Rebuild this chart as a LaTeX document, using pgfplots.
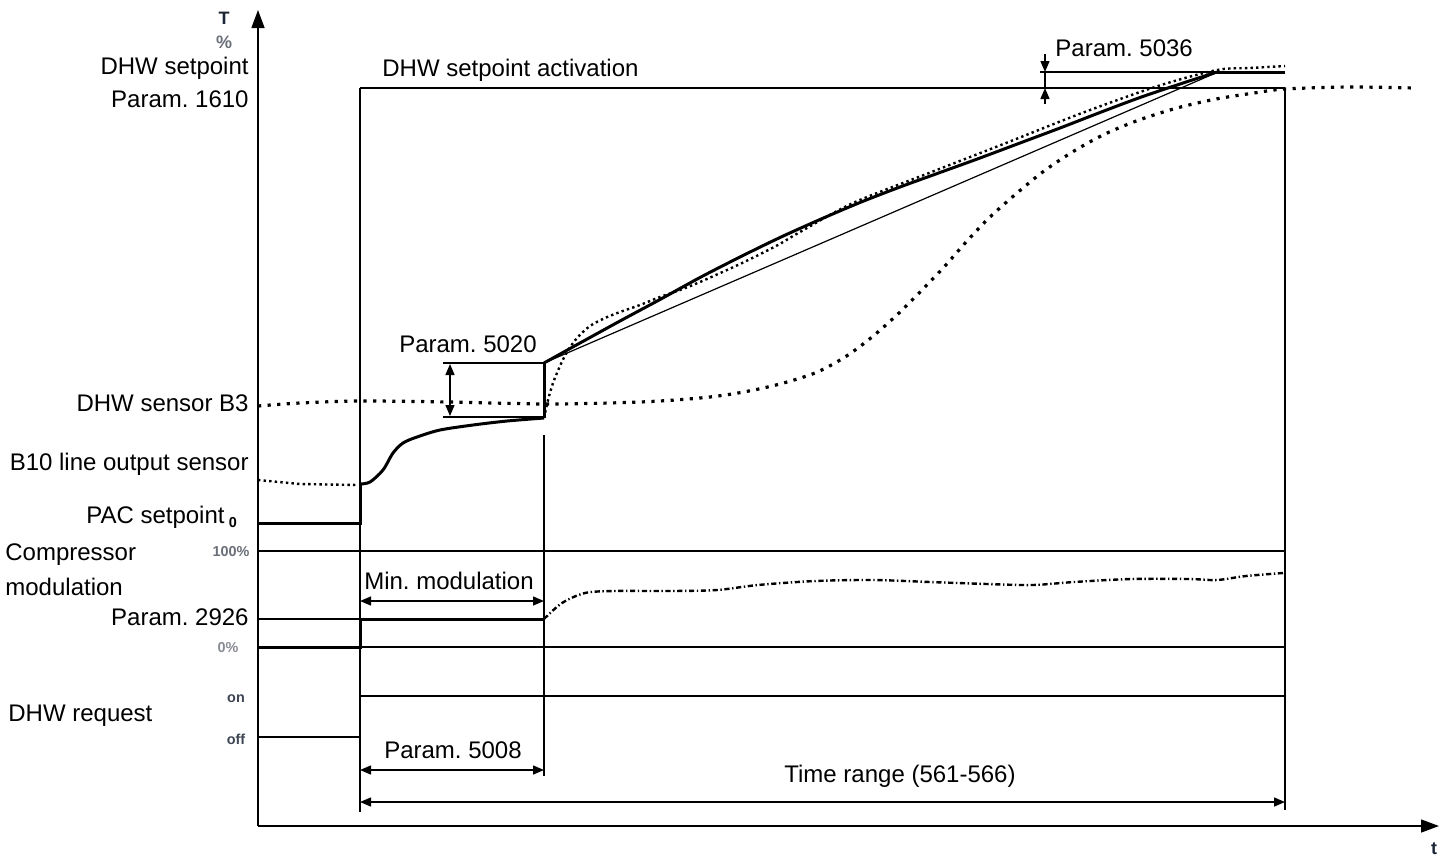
\documentclass[border=0pt]{standalone}
\usepackage{pgfplots}
\pgfplotsset{compat=1.18}
\usetikzlibrary{arrows.meta}
\usepackage{fontspec}
\setmainfont{Liberation Sans}
\frenchspacing
\definecolor{navy}{HTML}{1C2535}
\definecolor{grayl}{HTML}{6A6E78}
\tikzset{
  thinl/.style={line width=0.7pt},
  thickl/.style={line width=1.5pt},
  bigarrow/.style={-{Triangle[length=9pt,width=6.5pt]}},
  dimarrow/.style={{Triangle[length=5.5pt,width=4.5pt]}-{Triangle[length=5.5pt,width=4.5pt]}},
  endarrow/.style={-{Triangle[length=5.5pt,width=4.5pt]}},
  lab/.style={font=\fontsize{12}{14}\selectfont, inner sep=0pt},
  smalllab/.style={font=\fontsize{7.2}{8}\selectfont\bfseries, inner sep=0pt},
  axlab/.style={font=\fontsize{9}{10}\selectfont\bfseries, inner sep=0pt},
}
\begin{document}
\begin{tikzpicture}
\begin{axis}[
  width=723.5pt, height=429.5pt, scale only axis,
  xmin=0, xmax=1447, ymin=0, ymax=859, y dir=reverse,
  hide axis, clip=false,
  every axis plot/.append style={black},
]
\draw[draw=none] (axis cs:0,0) rectangle (axis cs:1447,859);

% axes
\addplot[thinl, bigarrow] coordinates {(258,826) (258,10)};
\addplot[thinl, bigarrow] coordinates {(258,826) (1439,826)};

% vertical guide lines
\addplot[thinl] coordinates {(360,88) (360,812)};
\addplot[thinl] coordinates {(544,435) (544,776)};
\addplot[thinl] coordinates {(1285,88) (1285,810)};

% horizontal guide lines
\addplot[thinl] coordinates {(360,88) (1285,88)};
\addplot[thinl] coordinates {(1040,72) (1218,72)};
\addplot[thinl] coordinates {(258,551) (1285,551)};
\addplot[thinl] coordinates {(258,619) (360,619)};
\addplot[thinl] coordinates {(360,647) (1285,647)};
\addplot[thinl] coordinates {(360,696) (1285,696)};
\addplot[thinl] coordinates {(258,737) (360,737)};
\addplot[thinl] coordinates {(443,363) (544,363)};
\addplot[thinl] coordinates {(443,417) (544,417)};

% dimension arrows
\addplot[thinl, dimarrow] coordinates {(450,364) (450,416)};
\addplot[thinl, dimarrow] coordinates {(360,601) (544,601)};
\addplot[thinl, dimarrow] coordinates {(360,770) (544,770)};
\addplot[thinl, dimarrow] coordinates {(360,802) (1285,802)};
\addplot[thinl, endarrow] coordinates {(1045,54) (1045,72)};
\addplot[thinl] coordinates {(1045,72) (1045,88)};
\addplot[thinl, endarrow] coordinates {(1045,104) (1045,88)};

% thin straight reference ramp
\addplot[line width=0.6pt] coordinates {(544,363) (1218,72)};

% DHW sensor B3 (coarse dots)
\addplot[line width=1.6pt, dash pattern=on 1.6pt off 3.2pt, smooth] coordinates {
(258,406) (300,403) (360,401) (450,402) (550,404) (640,402) (700,398) (738,393)
(776,385) (815,373) (845,357) (872,337) (899,313) (922,290) (944,267) (967,241)
(990,217) (1017,193) (1044,171) (1074,151) (1105,134) (1139,120) (1177,108)
(1216,99) (1254,93) (1285,89) (1350,87) (1415,88)};

% B10 line output sensor (fine dots)
\addplot[line width=1.2pt, dash pattern=on 1.2pt off 1.6pt] coordinates {
(258,480) (300,484) (358,485)};
\addplot[line width=1.2pt, dash pattern=on 1.2pt off 1.6pt, smooth] coordinates {
(544,418) (548,400) (553,383) (560,366) (567,352) (577,338) (590,326) (605,318)
(620,312) (640,305) (660,297) (680,290) (700,282) (740,264) (776,246) (800,232)
(853,203) (929,173) (1006,143) (1082,113) (1158,86) (1217,70) (1250,68) (1285,66)};

% PAC setpoint (thick)
\addplot[thickl] coordinates {(258,523) (360,523) (360,484)};
\addplot[thickl, smooth] coordinates {
(360,484) (370,482) (383,470) (393,453) (403,443) (417,437) (440,430)
(473,425) (507,421) (544,418)};
\addplot[thickl] coordinates {(544,418) (544,363)};
\addplot[thickl, smooth] coordinates {
(544,363) (580,343) (620,321) (660,299.5) (700,277.5) (740,257) (780,237.5)
(820,219.5) (860,202.5) (900,187) (940,172.5) (980,158) (1020,143) (1060,128)
(1100,112.5) (1140,97.5) (1180,84) (1217,72)};
\addplot[thickl] coordinates {(1217,72) (1285,72)};

% compressor modulation
\addplot[thickl] coordinates {(258,647) (360,647) (360,619) (544,619)};
\addplot[line width=1.2pt, dash pattern=on 2.6pt off 1.3pt on 0.7pt off 1.3pt, smooth] coordinates {
(544,619) (562,603) (585,593) (614,591) (671,591) (717,590) (758,585)
(815,581) (873,580) (930,582) (987,584) (1033,585) (1074,582) (1131,579)
(1189,579) (1217,580) (1246,576) (1283,573)};

% labels
\node[axlab, text=navy] at (axis cs:224,18) {T};
\node[axlab, text=grayl] at (axis cs:224,42) {\%};
\node[axlab, text=navy] at (axis cs:1434,849) {t};
\node[lab, anchor=east] at (axis cs:249,68) {DHW setpoint};
\node[lab, anchor=east] at (axis cs:249,99) {Param. 1610};
\node[lab, anchor=west] at (axis cs:382,70) {DHW setpoint activation};
\node[lab, anchor=west] at (axis cs:1055,48) {Param. 5036};
\node[lab, anchor=east] at (axis cs:249,403) {DHW sensor B3};
\node[lab, anchor=east] at (axis cs:249,464) {B10 line output sensor};
\node[lab, anchor=east] at (axis cs:225,517) {PAC setpoint};
\node[smalllab] at (axis cs:233,523) {0};
\node[lab, anchor=west] at (axis cs:5,555) {Compressor};
\node[lab, anchor=west] at (axis cs:5,587) {modulation};
\node[smalllab, text=grayl] at (axis cs:231,552) {100\%};
\node[lab, anchor=east] at (axis cs:249,617) {Param. 2926};
\node[smalllab, text=grayl!80] at (axis cs:228,648) {0\%};
\node[smalllab, text=navy!85] at (axis cs:236,699) {on};
\node[smalllab, text=navy!85] at (axis cs:236,739) {off};
\node[lab, anchor=west] at (axis cs:8,716) {DHW request};
\node[lab] at (axis cs:468,344) {Param. 5020};
\node[lab] at (axis cs:449,581) {Min. modulation};
\node[lab] at (axis cs:453,750) {Param. 5008};
\node[lab] at (axis cs:900,776) {Time range (561-566)};
\end{axis}
\end{tikzpicture}
\end{document}
